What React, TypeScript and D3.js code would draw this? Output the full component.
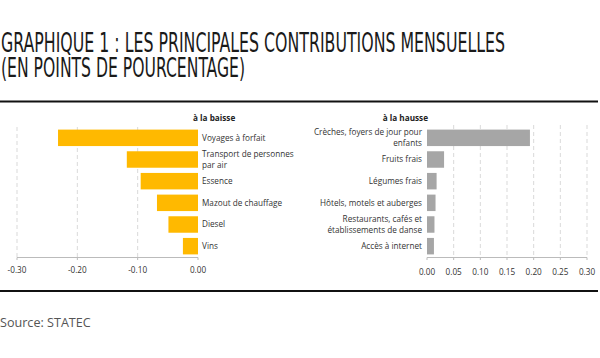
import React from "react";
import * as d3 from "d3";

const titleLines = [
  "GRAPHIQUE 1 : LES PRINCIPALES CONTRIBUTIONS MENSUELLES",
  "(EN POINTS DE POURCENTAGE)",
];
const baisseTitle = "à la baisse";
const hausseTitle = "à la hausse";
const baisseCategories = [
  "Voyages à forfait",
  "Transport de personnes\npar air",
  "Essence",
  "Mazout de chauffage",
  "Diesel",
  "Vins",
];
const baisseValues = [-0.232, -0.118, -0.095, -0.068, -0.049, -0.025];
const hausseCategories = [
  "Crèches, foyers de jour pour\nenfants",
  "Fruits frais",
  "Légumes frais",
  "Hôtels, motels et auberges",
  "Restaurants, cafés et\nétablissements de danse",
  "Accès à internet",
];
const hausseValues = [0.193, 0.032, 0.018, 0.016, 0.014, 0.013];
const baisseTicks = [-0.3, -0.2, -0.1, 0];
const hausseTicks = [0, 0.05, 0.1, 0.15, 0.2, 0.25, 0.3];
const sourceText = "Source: STATEC";

const W = 600;
const H = 358;
const FONT = "'Open Sans', 'Noto Sans', sans-serif";
const fmt = d3.formatLocale({ decimal: ".", thousands: ",", grouping: [3], currency: ["", ""], minus: "-" }).format(".2f");

export default function App() {
  const yTop = 127;
  const yBottom = 257;
  const xL = d3.scaleLinear().domain([-0.3, 0]).range([17, 198]);
  const yL = d3.scaleBand().domain(baisseCategories).range([yTop, yBottom]).paddingInner(0.24).paddingOuter(0.12);
  const xR = d3.scaleLinear().domain([0, 0.3]).range([427, 587]);
  const yR = d3.scaleBand().domain(hausseCategories).range([yTop, yBottom]).paddingInner(0.24).paddingOuter(0.12);
  const lineH = 11;
  const fs = 8.2;

  const label = (cat: string, x: number, yc: number, anchor: "start" | "end") => {
    const lines = cat.split("\n");
    const start = yc - ((lines.length - 1) * lineH) / 2;
    return (
      <text key={cat} x={x} fontSize={fs} fill="#333" textAnchor={anchor} fontFamily={FONT}>
        {lines.map((l, i) => (
          <tspan key={i} x={x} y={start + i * lineH} dy="0.35em">
            {l}
          </tspan>
        ))}
      </text>
    );
  };

  return (
    <svg width={W} height={H} style={{ position: "absolute", left: 0, top: 0, background: "#fff" }}>
      <rect width={W} height={H} fill="#fff" />
      {titleLines.map((t, i) => (
        <text
          key={i}
          x={1}
          y={52 + i * 25}
          fontSize={26}
          fill="#1a1a1a"
          fontFamily="'Liberation Sans Narrow', 'DejaVu Sans Condensed', sans-serif"
          textLength={i === 0 ? 504 : 244}
          lengthAdjust="spacingAndGlyphs"
        >
          {t}
        </text>
      ))}
      <line x1={0} x2={598} y1={101.5} y2={101.5} stroke="#111" strokeWidth={2} />
      <line x1={0} x2={598} y1={291} y2={291} stroke="#111" strokeWidth={2} />

      {/* left chart */}
      <text x={193} y={118} dy="0.35em" fontSize={fs} fontWeight="bold" fill="#222" fontFamily={FONT}>
        {baisseTitle}
      </text>
      {baisseTicks.map((t) => (
        <g key={t}>
          {t !== 0 && (
            <line x1={xL(t)} x2={xL(t)} y1={yTop} y2={yBottom} stroke="#cfcfcf" strokeWidth={0.8} strokeDasharray="4,3" />
          )}
          <line x1={xL(t)} x2={xL(t)} y1={yBottom + 0.5} y2={yBottom + 3} stroke="#bbb" />
          <text x={xL(t)} y={270} dy="0.35em" fontSize={fs} fill="#333" textAnchor="middle" fontFamily={FONT}>
            {fmt(t)}
          </text>
        </g>
      ))}
      {baisseCategories.map((c, i) => (
        <rect
          key={c}
          x={xL(baisseValues[i])}
          y={yL(c)}
          width={xL(0) - xL(baisseValues[i])}
          height={yL.bandwidth()}
          fill="#FFB900"
        />
      ))}
      <line x1={xL(-0.3)} x2={xL(0)} y1={yBottom + 0.5} y2={yBottom + 0.5} stroke="#bbb" />
      {baisseCategories.map((c) => label(c, 202, (yL(c) as number) + yL.bandwidth() / 2, "start"))}

      {/* right chart */}
      <text x={428} y={118} dy="0.35em" fontSize={fs} fontWeight="bold" fill="#222" textAnchor="end" fontFamily={FONT}>
        {hausseTitle}
      </text>
      {hausseTicks.map((t) => (
        <g key={t}>
          {t !== 0 && (
            <line x1={xR(t)} x2={xR(t)} y1={yTop - 2} y2={yBottom} stroke="#cfcfcf" strokeWidth={0.8} strokeDasharray="4,3" />
          )}
          <line x1={xR(t)} x2={xR(t)} y1={yBottom + 0.5} y2={yBottom + 3} stroke="#bbb" />
          <text x={xR(t)} y={272} dy="0.35em" fontSize={fs} fill="#333" textAnchor="middle" fontFamily={FONT}>
            {fmt(t)}
          </text>
        </g>
      ))}
      {hausseCategories.map((c, i) => (
        <rect
          key={c}
          x={xR(0)}
          y={yR(c)}
          width={xR(hausseValues[i]) - xR(0)}
          height={yR.bandwidth()}
          fill="#A6A6A6"
        />
      ))}
      <line x1={xR(0)} x2={xR(0.3)} y1={yBottom + 0.5} y2={yBottom + 0.5} stroke="#bbb" />
      {hausseCategories.map((c) => label(c, 422, (yR(c) as number) + yR.bandwidth() / 2, "end"))}

      <text x={0} y={323} dy="0.35em" fontSize={12.6} fill="#555" fontFamily={FONT}>
        {sourceText}
      </text>
    </svg>
  );
}
